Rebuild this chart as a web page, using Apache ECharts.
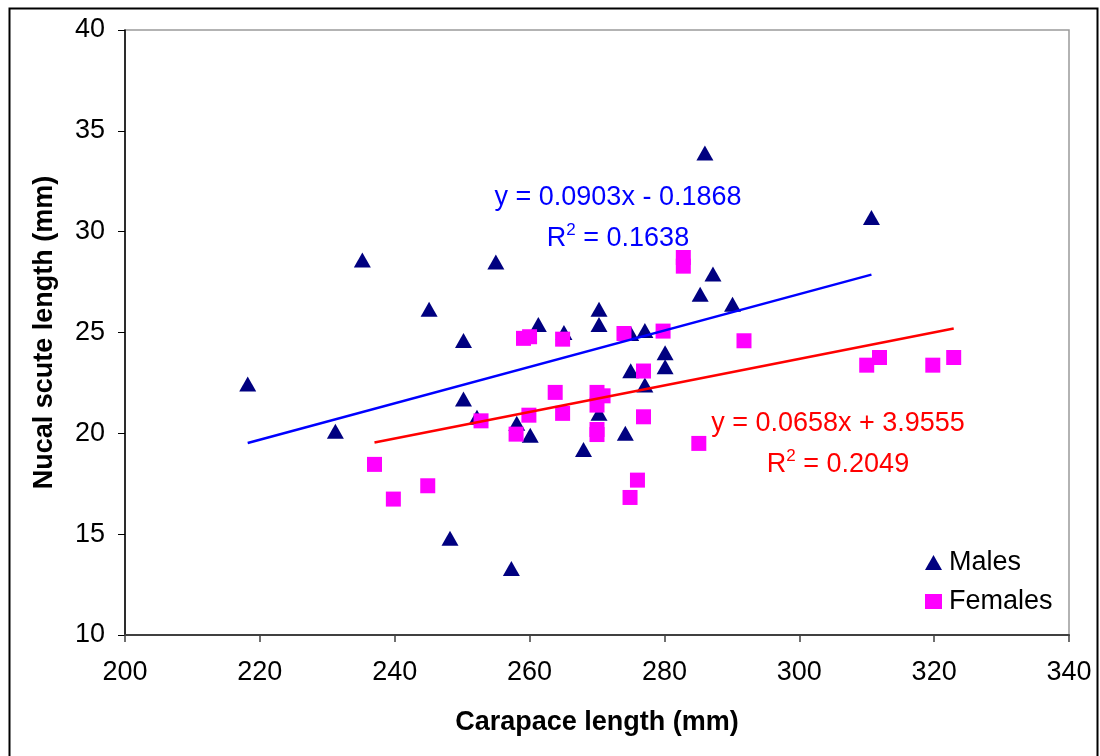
<!DOCTYPE html>
<html>
<head>
<meta charset="utf-8">
<script src="https://cdn.jsdelivr.net/npm/echarts@6/dist/echarts.min.js"></script>
<style>
html,body{margin:0;padding:0;background:#fff;}
#chart{width:1100px;height:756px;}
</style>
</head>
<body>
<div id="chart"></div>
<script>
// Data: [carapace length, nucal scute length]
const males = [
  [218.2, 22.45], [231.2, 20.1], [235.2, 28.6], [245.1, 26.15], [248.2, 14.8],
  [250.2, 24.6], [250.2, 21.7], [252.2, 20.8], [255.0, 28.5], [257.3, 13.3],
  [258.1, 20.5], [260.1, 19.9], [261.3, 25.4], [265.1, 25.0], [268.0, 19.2],
  [270.3, 26.15], [270.3, 25.4], [270.3, 21.0], [274.2, 20.0], [275.0, 23.1],
  [275.0, 24.95], [277.1, 25.1], [277.1, 22.4], [280.1, 24.0], [280.1, 23.3],
  [285.3, 26.9], [286.0, 33.9], [287.2, 27.9], [290.1, 26.4], [310.7, 30.7]
];
const females = [
  [237.0, 18.46], [239.8, 16.74], [244.9, 17.4], [252.8, 20.62], [258.0, 19.96],
  [259.1, 24.71], [260.0, 24.79], [259.9, 20.9], [263.8, 22.03], [264.9, 24.67],
  [264.9, 20.99], [270.0, 22.03], [270.9, 21.86], [270.0, 21.4], [270.0, 20.19],
  [270.0, 19.94], [274.0, 24.95], [274.9, 16.82], [276.0, 17.68], [276.9, 23.09],
  [276.9, 20.82], [279.8, 25.07], [282.8, 28.72], [282.8, 28.29], [285.1, 19.5],
  [291.8, 24.59], [310.0, 23.38], [311.9, 23.76], [319.8, 23.38], [322.9, 23.76]
];
// Trend line end points
const maleTrend = [[218.2, 19.52], [310.7, 27.87]];
const femaleTrend = [[237.0, 19.55], [322.9, 25.2]];
const seriesNames = ['Males', 'Females'];
const xTicks = {min: 200, max: 340, interval: 20};
const yTicks = {min: 10, max: 40, interval: 5};
const maleEquation = ['y = 0.0903x - 0.1868', '0.1638'];
const femaleEquation = ['y = 0.0658x + 3.9555', '0.2049'];

const FONT = 'Liberation Sans, Arial, sans-serif';
const FS = 27;
const chart = echarts.init(document.getElementById('chart'), null, {renderer: 'canvas'});

function r2Text(color, val) {
  return {
    text: '{a|R}{s|2}{a| = ' + val + '}', align: 'center', verticalAlign: 'middle',
    rich: {
      a: {fontSize: FS, fill: color, color: color, fontFamily: FONT, verticalAlign: 'bottom', lineHeight: 30},
      s: {fontSize: 17, fill: color, color: color, fontFamily: FONT, verticalAlign: 'top', lineHeight: 30}
    }
  };
}

const option = {
  backgroundColor: '#ffffff',
  animation: false,
  textStyle: {fontFamily: FONT},
  grid: {
    left: 125, right: 31, top: 30, bottom: 121,
    show: true, borderColor: '#9a9a9a', borderWidth: 1.5, backgroundColor: '#ffffff'
  },
  legend: {
    data: [
      {name: seriesNames[0], icon: 'triangle'},
      {name: seriesNames[1], icon: 'rect'}
    ],
    orient: 'vertical',
    left: 920, top: 544,
    itemWidth: 17, itemHeight: 15, itemGap: 12,
    textStyle: {fontSize: FS, color: '#000', fontFamily: FONT, padding: [0, 0, 0, 2]}
  },
  xAxis: {
    type: 'value', min: xTicks.min, max: xTicks.max, interval: xTicks.interval,
    name: 'Carapace length (mm)', nameLocation: 'middle', nameGap: 74,
    nameTextStyle: {fontSize: FS, fontWeight: 'bold', color: '#000', fontFamily: FONT},
    axisLine: {show: true, onZero: false, lineStyle: {color: '#404040', width: 2}},
    axisTick: {show: true, inside: false, length: 7, lineStyle: {color: '#404040', width: 1.5}},
    axisLabel: {fontSize: FS, color: '#000', margin: 24, fontFamily: FONT},
    splitLine: {show: false}
  },
  yAxis: {
    type: 'value', min: yTicks.min, max: yTicks.max, interval: yTicks.interval,
    name: 'Nucal scute length (mm)', nameLocation: 'middle', nameGap: 67,
    nameTextStyle: {fontSize: FS, fontWeight: 'bold', color: '#000', fontFamily: FONT},
    axisLine: {show: true, onZero: false, lineStyle: {color: '#000', width: 1.5}},
    axisTick: {show: true, inside: false, length: 7, lineStyle: {color: '#000', width: 1}},
    axisLabel: {fontSize: FS, color: '#000', margin: 20, fontFamily: FONT},
    splitLine: {show: false}
  },
  series: [
    {
      name: seriesNames[0], type: 'scatter', data: males,
      symbol: 'triangle', symbolSize: [17, 15],
      itemStyle: {color: '#000080', opacity: 1}, z: 2
    },
    {
      name: seriesNames[1], type: 'scatter', data: females,
      symbol: 'rect', symbolSize: 15,
      itemStyle: {color: '#ff00ff', opacity: 1}, z: 3
    },
    {
      name: 'Males trend', type: 'line', data: maleTrend, showSymbol: false, symbol: 'none',
      lineStyle: {color: '#0000ff', width: 2.5}, z: 4, silent: true
    },
    {
      name: 'Females trend', type: 'line', data: femaleTrend, showSymbol: false, symbol: 'none',
      lineStyle: {color: '#ff0000', width: 2.5}, z: 4, silent: true
    }
  ],
  graphic: [
    {
      type: 'rect', left: 7, top: 6, z: -10, silent: true,
      shape: {width: 1088, height: 770},
      style: {fill: 'none', stroke: '#000', lineWidth: 2}
    },
    {
      type: 'text', x: 618, y: 198, z: 100, silent: true,
      style: {text: maleEquation[0], fill: '#0000ff', font: FS + 'px ' + FONT, align: 'center', verticalAlign: 'middle'}
    },
    {type: 'text', x: 618, y: 237, z: 100, silent: true, style: r2Text('#0000ff', maleEquation[1])},
    {
      type: 'text', x: 838, y: 424, z: 100, silent: true,
      style: {text: femaleEquation[0], fill: '#ff0000', font: FS + 'px ' + FONT, align: 'center', verticalAlign: 'middle'}
    },
    {type: 'text', x: 838, y: 463, z: 100, silent: true, style: r2Text('#ff0000', femaleEquation[1])}
  ]
};
chart.setOption(option);
</script>
</body>
</html>
